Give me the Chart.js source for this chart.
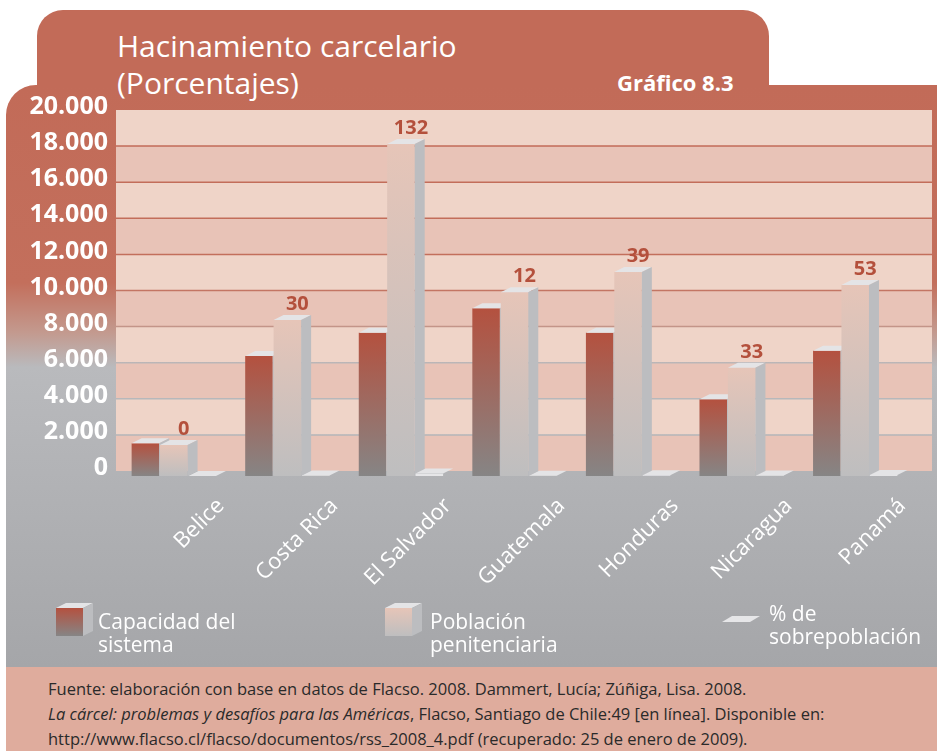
<!DOCTYPE html>
<html lang="es">
<head>
<meta charset="utf-8">
<title>Hacinamiento carcelario</title>
<script src="https://cdn.jsdelivr.net/npm/chart.js@4.4.1/dist/chart.umd.min.js"></script>
<style>
  html, body { margin: 0; padding: 0; background: #fff; }
  body { width: 937px; height: 751px; position: relative; overflow: hidden; font-family: "Open Sans", sans-serif; }
  .tab { position: absolute; left: 37px; top: 10px; width: 732px; height: 100px; background: #c26b58; border-radius: 26px 26px 0 0; }
  .panel {
    position: absolute; left: 6px; top: 85px; width: 931px; height: 582px;
    border-top-left-radius: 30px;
    background: linear-gradient(to bottom, #c26b58 0%, #c36f5c 34%, #c39a8f 42.6%, #b9babd 48.5%, #a5a6a9 100%);
  }
  .footer { position: absolute; left: 6px; top: 667px; width: 931px; height: 84px; background: #dfac9d; }
  .title { position: absolute; left: 117px; top: 27px; color: #fff; font-size: 30px; line-height: 37px; }
  .num { position: absolute; left: 617px; top: 71px; color: #fff; font-size: 22px; line-height: 22px; font-weight: bold; }
  .source { position: absolute; left: 48px; top: 676px; color: #2a2a2a; font-size: 16.5px; line-height: 25px; white-space: nowrap; }
  canvas { position: absolute; left: 0; top: 0; }
</style>
</head>
<body>
<div class="tab"></div>
<div class="panel"></div>
<div class="footer"></div>
<div class="title">Hacinamiento carcelario<br>(Porcentajes)</div>
<div class="num">Gráfico 8.3</div>
<div class="source">
  Fuente: elaboración con base en datos de Flacso. 2008. Dammert, Lucía; Zúñiga, Lisa. 2008.<br>
  <i>La cárcel: problemas y desafíos para las Américas</i>, Flacso, Santiago de Chile:49 [en línea]. Disponible en:<br>
  http://www.flacso.cl/flacso/documentos/rss_2008_4.pdf (recuperado: 25 de enero de 2009).
</div>
<canvas id="chart" width="937" height="751"></canvas>

<script>
// datos
const categories = ['Belice', 'Costa Rica', 'El Salvador', 'Guatemala', 'Honduras', 'Nicaragua', 'Panamá'];
const capacidad = [1810, 6650, 7940, 9290, 7940, 4250, 6940];
const poblacion = [1720, 8640, 18390, 10180, 11300, 6000, 10580];
const sobrepoblacion = [0, 30, 132, 12, 39, 33, 53];
const seriesNames = ['Capacidad del\nsistema', 'Población\npenitenciaria', '% de\nsobrepoblación'];
const yTicks = [0, 2000, 4000, 6000, 8000, 10000, 12000, 14000, 16000, 18000, 20000];
const yTickLabels = ['0', '2.000', '4.000', '6.000', '8.000', '10.000', '12.000', '14.000', '16.000', '18.000', '20.000'];

const DX = 10, DY = 5;   // profundidad 3D
const FONT = '"Open Sans", sans-serif';

function panelGradient(ctx) {
    const g = ctx.createLinearGradient(0, 85, 0, 667);
    g.addColorStop(0, '#c26b58');
    g.addColorStop(0.34, '#c36f5c');
    g.addColorStop(0.426, '#c39a8f');
    g.addColorStop(0.485, '#b9babd');
    g.addColorStop(1, '#a5a6a9');
    return g;
}

function faceGradient(top, bottom) {
    return (c) => {
        const chart = c.chart;
        const y = chart.scales && chart.scales.y;
        if (!y || c.raw == null) return top;
        const y0 = y.getPixelForValue(c.raw), y1 = y.getPixelForValue(0);
        if (!isFinite(y0) || !isFinite(y1) || y1 - y0 < 1) return top;
        const g = chart.ctx.createLinearGradient(0, y0, 0, y1);
        g.addColorStop(0, top);
        g.addColorStop(1, bottom);
        return g;
    };
}

// pared de fondo con bandas y lineas
const wallPlugin = {
    id: 'wall',
    beforeDatasetsDraw(chart) {
        const { ctx, chartArea: a, scales: { y } } = chart;
        const left = a.left - 1, right = a.right + 20;
        ctx.save();
        for (let i = 0; i < yTicks.length - 1; i++) {
            const yb = y.getPixelForValue(yTicks[i]) - DY;
            const yt = y.getPixelForValue(yTicks[i + 1]) - DY;
            ctx.fillStyle = i % 2 === 0 ? '#e8c3b7' : '#efd4c8';
            ctx.fillRect(left, yt, right - left, yb - yt);
        }
        ctx.strokeStyle = panelGradient(ctx);
        ctx.lineWidth = 1.5;
        yTicks.slice(1, -1).forEach(v => {
            const py = y.getPixelForValue(v) - DY;
            ctx.beginPath();
            ctx.moveTo(left, py);
            ctx.lineTo(right, py);
            ctx.stroke();
        });
        ctx.restore();
    }
};

function drawCube(ctx, x0, x1, top, base, frontFill, side) {
    if (frontFill) {
        ctx.fillStyle = frontFill;
        ctx.fillRect(x0, top, x1 - x0, base - top);
    }
    ctx.fillStyle = '#e4e4e6';
    ctx.beginPath();
    ctx.moveTo(x0, top);
    ctx.lineTo(x1, top);
    ctx.lineTo(x1 + DX, top - DY);
    ctx.lineTo(x0 + DX, top - DY);
    ctx.closePath();
    ctx.fill();
    if (side) {
        ctx.fillStyle = '#bcbdc0';
        ctx.beginPath();
        ctx.moveTo(x1, top);
        ctx.lineTo(x1 + DX, top - DY);
        ctx.lineTo(x1 + DX, base - DY);
        ctx.lineTo(x1, base);
        ctx.closePath();
        ctx.fill();
    }
}

// barras 3D: se dibujan por categoria para que se tapen bien
const cubePlugin = {
    id: 'cube',
    beforeDatasetDraw() {
        return false;
    },
    afterDatasetsDraw(chart) {
        const ctx = chart.ctx;
        const metas = [0, 1, 2].map(i => chart.getDatasetMeta(i));
        ctx.save();
        categories.forEach((c, i) => {
            metas.forEach((meta, d) => {
                const el = meta.data[i];
                const { x, y, base, width } = el.getProps(['x', 'y', 'base', 'width'], true);
                drawCube(ctx, x - width / 2, x + width / 2, y, base, el.options.backgroundColor, d !== 2);
            });
        });
        ctx.fillStyle = '#b4503c';
        ctx.font = 'bold 20px ' + FONT;
        ctx.textAlign = 'center';
        ctx.textBaseline = 'alphabetic';
        metas[1].data.forEach((el, i) => {
            ctx.fillText(String(sobrepoblacion[i]), el.x + 10, el.y - 10);
        });
        ctx.restore();
    }
};

// leyenda dibujada a mano
const legendPlugin = {
    id: 'legend3d',
    afterDraw(chart) {
        const ctx = chart.ctx;
        const items = [
            { x: 56, tx: 98, ty: 629, kind: 'cube', colors: ['#b4513f', '#868585'] },
            { x: 385, tx: 430, ty: 629, kind: 'cube', colors: ['#e6c5b8', '#bebebf'] },
            { x: 722, tx: 769, ty: 621, kind: 'flat' }
        ];
        ctx.save();
        items.forEach((it, i) => {
            if (it.kind === 'cube') {
                const g = ctx.createLinearGradient(0, 608, 0, 636);
                g.addColorStop(0, it.colors[0]);
                g.addColorStop(1, it.colors[1]);
                drawCube(ctx, it.x, it.x + 27, 608, 636, g, true);
            } else {
                ctx.fillStyle = '#e6e6e8';
                ctx.beginPath();
                ctx.moveTo(it.x, 622);
                ctx.lineTo(it.x + 28, 622);
                ctx.lineTo(it.x + 38, 616);
                ctx.lineTo(it.x + 10, 616);
                ctx.closePath();
                ctx.fill();
            }
            ctx.fillStyle = '#fff';
            ctx.font = '21px ' + FONT;
            ctx.textAlign = 'left';
            ctx.textBaseline = 'alphabetic';
            chart.data.datasets[i].label.split('\n').forEach((line, k) => {
                ctx.fillText(line, it.tx, it.ty + k * 23);
            });
        });
        ctx.restore();
    }
};

new Chart(document.getElementById('chart'), {
    type: 'bar',
    data: {
        labels: categories,
        datasets: [
            {
                label: seriesNames[0],
                data: capacidad,
                backgroundColor: faceGradient('#b4513f', '#868585')
            },
            {
                label: seriesNames[1],
                data: poblacion,
                backgroundColor: faceGradient('#e6c5b8', '#bebebf')
            },
            {
                label: seriesNames[2],
                data: sobrepoblacion,
                backgroundColor: '#e6e6e8'
            }
        ]
    },
    options: {
        responsive: false,
        animation: false,
        devicePixelRatio: 1,
        categoryPercentage: 0.75,
        barPercentage: 0.97,
        layout: { padding: { top: 115, right: 25, left: 0, bottom: 0 } },
        plugins: {
            legend: { display: false },
            tooltip: { enabled: false }
        },
        scales: {
            x: {
                afterFit: s => { s.height = 275; },
                grid: { display: false },
                border: { display: false },
                ticks: {
                    color: '#fff',
                    font: { family: FONT, size: 22 },
                    minRotation: 45,
                    maxRotation: 45,
                    autoSkip: false,
                    labelOffset: 47,
                    padding: 9
                }
            },
            y: {
                min: 0,
                max: 20000,
                afterBuildTicks: s => { s.ticks = yTicks.map(v => ({ value: v })); },
                afterFit: s => { s.width = 117; },
                grid: { display: false, drawTicks: false },
                border: { display: false },
                ticks: {
                    color: '#fff',
                    font: { family: FONT, size: 25, weight: 'bold' },
                    padding: 9,
                    labelOffset: -8,
                    callback: v => yTickLabels[yTicks.indexOf(v)]
                }
            }
        }
    },
    plugins: [wallPlugin, cubePlugin, legendPlugin]
});
</script>
</body>
</html>
